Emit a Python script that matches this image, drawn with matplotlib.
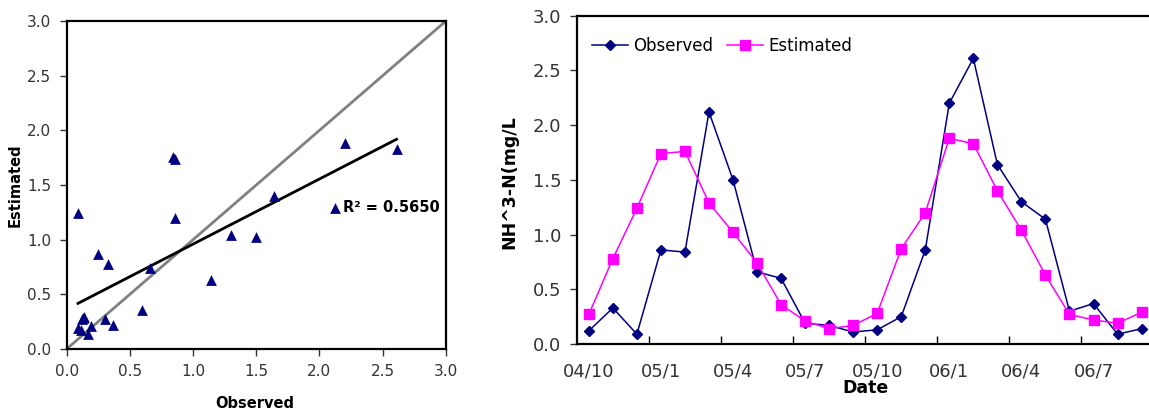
"""
Observed vs estimated NH3-N: scatter with fit and time series.
"""

import numpy as np
from matplotlib import pyplot as plt

# data
dates = ['04/10', '', '', '05/1', '', '', '05/4', '', '', '05/7', '', '',
         '05/10', '', '', '06/1', '', '', '06/4', '', '', '06/7', '', '']
observed = [0.12, 0.33, 0.09, 0.86, 0.84, 2.12, 1.50, 0.66, 0.60, 0.19, 0.17, 0.11,
            0.13, 0.25, 0.86, 2.20, 2.61, 1.64, 1.30, 1.14, 0.30, 0.37, 0.09, 0.14]
estimated = [0.27, 0.78, 1.24, 1.74, 1.76, 1.29, 1.02, 0.74, 0.36, 0.21, 0.14, 0.17,
             0.28, 0.87, 1.20, 1.88, 1.83, 1.40, 1.04, 0.63, 0.27, 0.22, 0.19, 0.29]
r2_text = 'R² = 0.5650'

navy = '#000080'
pink = '#FF00FF'

fig = plt.figure(figsize=(11.49, 4.13), dpi=100)

# ---- left: scatter ----
ax1 = fig.add_axes([0.058, 0.155, 0.330, 0.794])
obs = np.array(observed)
est = np.array(estimated)

ax1.plot([0, 3], [0, 3], color='#808080', lw=2, zorder=1)
k, q = np.polyfit(obs, est, 1)
xx = np.array([obs.min(), obs.max()])
ax1.plot(xx, k * xx + q, color='black', lw=2, zorder=2)
ax1.scatter(obs, est, marker='^', s=60, color=navy, zorder=3, linewidths=0)
ax1.text(2.19, 1.29, r2_text, fontsize=10.5, fontweight='bold', va='center', ha='left')

ax1.set_xlim(0, 3)
ax1.set_ylim(0, 3)
ticks = np.arange(0, 3.01, 0.5)
ax1.set_xticks(ticks)
ax1.set_yticks(ticks)
ax1.set_xticklabels(['%.1f' % t for t in ticks])
ax1.set_yticklabels(['%.1f' % t for t in ticks])
ax1.tick_params(direction='out', length=5, width=1, labelsize=11, colors='#333333', pad=6)
for s in ax1.spines.values():
  s.set_linewidth(1.6)
fig.text(0.222, 0.005, 'Observed', fontsize=10.5, fontweight='bold', ha='center', va='bottom')
fig.text(0.013, 0.552, 'Estimated', fontsize=10.5, fontweight='bold', rotation=90, ha='center', va='center')

# ---- right: time series ----
ax2 = fig.add_axes([0.502, 0.167, 0.502, 0.795])
x = np.arange(len(observed))
ax2.plot(x, observed, color=navy, lw=1.1, marker='D', ms=5.5, label='Observed')
ax2.plot(x, estimated, color=pink, lw=1.1, marker='s', ms=7, label='Estimated')

ax2.set_xlim(-0.5, len(observed) - 0.5)
ax2.set_ylim(0, 3)
ax2.set_yticks(ticks)
ax2.set_yticklabels(['%.1f' % t for t in ticks])
# labels under every third category, ticks between categories
lab_pos = [i for i, d in enumerate(dates) if d]
ax2.set_xticks(lab_pos)
ax2.set_xticklabels([dates[i] for i in lab_pos])
ax2.set_xticks(np.arange(2.5, len(observed), 3), minor=True)
ax2.tick_params(axis='x', which='major', length=0, labelsize=13, colors='#333333', pad=13)
ax2.tick_params(axis='x', which='minor', direction='in', length=6, width=1)
ax2.tick_params(axis='y', direction='out', length=5, width=1, labelsize=13, colors='#333333', pad=6)
for s in ax2.spines.values():
  s.set_linewidth(1.6)

ax2.legend(loc='upper left', ncol=2, frameon=False, fontsize=12, handlelength=2.2,
           handletextpad=0.3, columnspacing=0.8, bbox_to_anchor=(0.0, 0.98))
ax2.set_xlabel('Date', fontsize=12.5, fontweight='bold', labelpad=-1)
fig.text(0.443, 0.56, 'NH^3-N(mg/L', fontsize=12.5, fontweight='bold', rotation=90,
         ha='center', va='center')

fig.savefig('out.png', dpi=100)
